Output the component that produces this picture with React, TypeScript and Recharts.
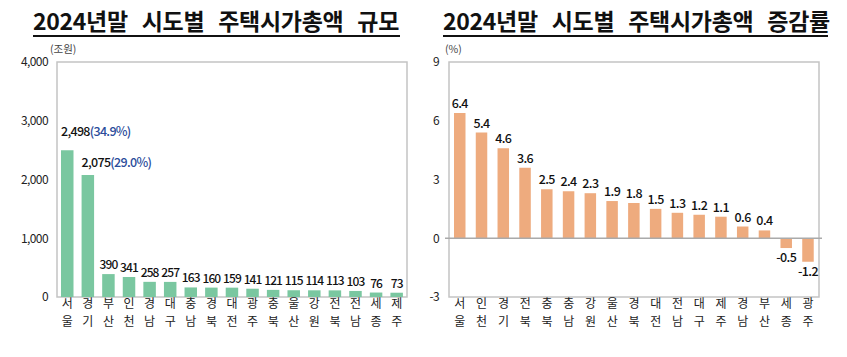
import {
  BarChart,
  Bar,
  XAxis,
  YAxis,
  ReferenceArea,
  ReferenceLine,
  LabelList,
} from 'recharts';

// 2024년말 시도별 주택시가총액 규모 (조원)
const sizeRegions = ['서울', '경기', '부산', '인천', '경남', '대구', '충남', '경북', '대전', '광주', '충북', '울산', '강원', '전북', '전남', '세종', '제주'];
const sizeValues = [2498, 2075, 390, 341, 258, 257, 163, 160, 159, 141, 121, 115, 114, 113, 103, 76, 73];
const sizeShares = ['34.9%', '29.0%'];
const sizeTicks = [0, 1000, 2000, 3000, 4000];

// 2024년말 시도별 주택시가총액 증감률 (%)
const rateRegions = ['서울', '인천', '경기', '전북', '충북', '충남', '강원', '울산', '경북', '대전', '전남', '대구', '제주', '경남', '부산', '세종', '광주'];
const rateValues = [6.4, 5.4, 4.6, 3.6, 2.5, 2.4, 2.3, 1.9, 1.8, 1.5, 1.3, 1.2, 1.1, 0.6, 0.4, -0.5, -1.2];
const rateTicks = [-3, 0, 3, 6, 9];

const FONT = '"Noto Sans CJK KR", "Noto Sans", sans-serif';

const sizeData = sizeRegions.map((region, i) => ({ region, value: sizeValues[i] }));
const rateData = rateRegions.map((region, i) => ({ region, value: rateValues[i] }));

// 지역명을 두 줄로 세로 배치
const RegionTick = (props: any) => {
  const { x, y, payload } = props;
  const chars = String(payload.value).split('');
  return (
    <g>
      <text x={x} y={y + 9} textAnchor='middle' fontFamily={FONT} fontSize={12} fill='#222'>
        {chars[0]}
      </text>
      <text x={x} y={y + 27} textAnchor='middle' fontFamily={FONT} fontSize={12} fill='#222'>
        {chars[1]}
      </text>
    </g>
  );
};

const SizeLabel = (props: any) => {
  const { x, y, width, height, value, index } = props;
  const top = Math.min(y, y + height);
  const txt = value >= 1000 ? value.toLocaleString('en-US') : String(value);
  if (index < sizeShares.length) {
    return (
      <text
        x={x}
        y={top - (index === 0 ? 14 : 8)}
        fontFamily={FONT}
        fontSize={12.5}
        fontWeight={500}
        letterSpacing={-0.7}
        fill='#111'>
        {txt}
        <tspan fill='#2B4C9B'>({sizeShares[index]})</tspan>
      </text>
    );
  }
  return (
    <text
      x={x + width / 2}
      y={top - 5}
      textAnchor='middle'
      fontFamily={FONT}
      fontSize={12}
      fontWeight={500}
      letterSpacing={-0.9}
      fill='#111'>
      {txt}
    </text>
  );
};

const RateLabel = (props: any) => {
  const { x, y, width, height, value } = props;
  const top = Math.min(y, y + height);
  const bottom = Math.max(y, y + height);
  return (
    <text
      x={x + width / 2}
      y={value < 0 ? bottom + 14 : top - 5}
      textAnchor='middle'
      fontFamily={FONT}
      fontSize={12.5}
      fontWeight={500}
      letterSpacing={-0.6}
      fill='#111'>
      {value}
    </text>
  );
};

const titleStyle = {
  position: 'absolute' as const,
  top: 6,
  fontFamily: FONT,
  fontSize: 23,
  fontWeight: 700,
  lineHeight: '29px',
  letterSpacing: -0.3,
  wordSpacing: 9,
  color: '#111',
  whiteSpace: 'pre' as const,
  borderBottom: '2px solid #111',
};

const unitStyle = {
  position: 'absolute' as const,
  top: 41,
  fontFamily: FONT,
  fontSize: 10.5,
  color: '#444',
};

const tickStyle = { fontFamily: FONT, fontSize: 12, fill: '#222', letterSpacing: -0.6 };

export default function App() {
  return (
    <div style={{ position: 'absolute', left: 0, top: 0, width: 847, height: 357, background: '#fff' }}>
      <div style={{ ...titleStyle, left: 33, width: 367 }}>2024년말 시도별 주택시가총액 규모</div>
      <div style={{ ...unitStyle, left: 50 }}>(조원)</div>
      <div style={{ ...titleStyle, left: 443, width: 385 }}>2024년말 시도별 주택시가총액 증감률</div>
      <div style={{ ...unitStyle, left: 445 }}>(%)</div>

      <div style={{ position: 'absolute', left: 0, top: 0 }}>
        <BarChart
          width={420}
          height={357}
          data={sizeData}
          margin={{ top: 62, right: 9, left: 0, bottom: 0 }}>
          <ReferenceArea y1={0} y2={4000} fill='none' stroke='#c4c4c4' strokeWidth={1.5} />
          <XAxis
            dataKey='region'
            axisLine={false}
            tickLine={false}
            tickSize={0}
            tickMargin={2}
            height={60}
            interval={0}
            padding={{ left: 4, right: 4 }}
            tick={<RegionTick />}
          />
          <YAxis
            width={53}
            domain={[0, 4000]}
            ticks={sizeTicks}
            tickFormatter={(v: number) => v.toLocaleString('en-US')}
            axisLine={false}
            tickLine={false}
            tickSize={0}
            tickMargin={5}
            tick={tickStyle}
          />
          <Bar dataKey='value' fill='#7AC7A0' barSize={12.5} isAnimationActive={false}>
            <LabelList dataKey='value' content={<SizeLabel />} />
          </Bar>
        </BarChart>
      </div>

      <div style={{ position: 'absolute', left: 420, top: 0 }}>
        <BarChart
          width={427}
          height={357}
          data={rateData}
          margin={{ top: 62, right: 25, left: 0, bottom: 0 }}>
          <ReferenceArea y1={-3} y2={9} fill='none' stroke='#c4c4c4' strokeWidth={1.5} />
          <ReferenceLine y={0} stroke='#aaa' strokeWidth={1.5} />
          <XAxis
            dataKey='region'
            axisLine={false}
            tickLine={false}
            tickSize={0}
            tickMargin={2}
            height={60}
            interval={0}
            padding={{ left: 4, right: 3 }}
            tick={<RegionTick />}
          />
          <YAxis
            width={25}
            domain={[-3, 9]}
            ticks={rateTicks}
            axisLine={false}
            tickLine={false}
            tickSize={0}
            tickMargin={6}
            tick={tickStyle}
          />
          <Bar dataKey='value' fill='#EEAB7E' barSize={11.5} isAnimationActive={false}>
            <LabelList dataKey='value' content={<RateLabel />} />
          </Bar>
        </BarChart>
      </div>
    </div>
  );
}
